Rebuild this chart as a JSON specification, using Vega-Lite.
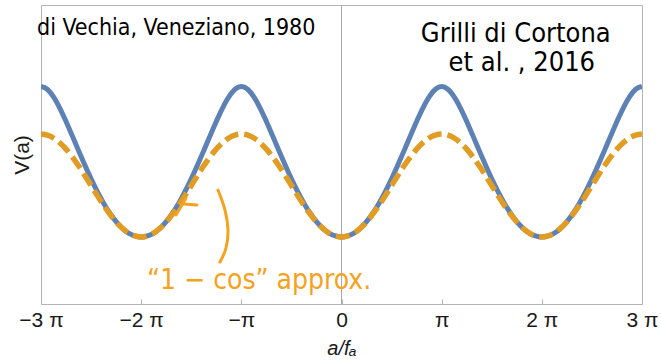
{
  "$schema": "https://vega.github.io/schema/vega-lite/v6.json",
  "width": 601,
  "height": 299,
  "autosize": {"type": "none"},
  "padding": {"left": 41, "top": 5, "right": 19, "bottom": 59},
  "background": "white",
  "config": {
    "view": {"stroke": "#b4b4b4", "strokeWidth": 1},
    "font": "Liberation Sans",
    "axisX": {
      "grid": false,
      "domain": false,
      "ticks": true,
      "tickSize": -5,
      "tickColor": "#b4b4b4",
      "labelFlush": false,
      "labelOverlap": false,
      "labelFont": "Liberation Sans",
      "labelFontSize": 21,
      "labelColor": "#1a1a1a",
      "labelPadding": 10,
      "titleFont": "Liberation Sans",
      "titleFontSize": 20,
      "titleFontWeight": "normal",
      "titleFontStyle": "italic",
      "titleColor": "#1a1a1a",
      "titlePadding": 8
    },
    "axisY": {
      "labels": false,
      "ticks": false,
      "domain": false,
      "grid": false,
      "titleFont": "Liberation Sans",
      "titleFontSize": 21,
      "titleFontWeight": "normal",
      "titleColor": "#1a1a1a",
      "titlePadding": 9
    }
  },
  "datasets": {
    "curves": [
      {"t": -3, "v": 1, "c": 0.684},
      {"t": -2.9375, "v": 0.982, "c": 0.677},
      {"t": -2.875, "v": 0.931, "c": 0.658},
      {"t": -2.8125, "v": 0.857, "c": 0.626},
      {"t": -2.75, "v": 0.768, "c": 0.584},
      {"t": -2.6875, "v": 0.672, "c": 0.532},
      {"t": -2.625, "v": 0.574, "c": 0.473},
      {"t": -2.5625, "v": 0.478, "c": 0.409},
      {"t": -2.5, "v": 0.386, "c": 0.342},
      {"t": -2.4375, "v": 0.301, "c": 0.275},
      {"t": -2.375, "v": 0.225, "c": 0.211},
      {"t": -2.3125, "v": 0.158, "c": 0.152},
      {"t": -2.25, "v": 0.102, "c": 0.1},
      {"t": -2.1875, "v": 0.058, "c": 0.058},
      {"t": -2.125, "v": 0.026, "c": 0.026},
      {"t": -2.0625, "v": 0.007, "c": 0.007},
      {"t": -2, "v": 0, "c": 0},
      {"t": -1.9375, "v": 0.007, "c": 0.007},
      {"t": -1.875, "v": 0.026, "c": 0.026},
      {"t": -1.8125, "v": 0.058, "c": 0.058},
      {"t": -1.75, "v": 0.102, "c": 0.1},
      {"t": -1.6875, "v": 0.158, "c": 0.152},
      {"t": -1.625, "v": 0.225, "c": 0.211},
      {"t": -1.5625, "v": 0.301, "c": 0.275},
      {"t": -1.5, "v": 0.386, "c": 0.342},
      {"t": -1.4375, "v": 0.478, "c": 0.409},
      {"t": -1.375, "v": 0.574, "c": 0.473},
      {"t": -1.3125, "v": 0.672, "c": 0.532},
      {"t": -1.25, "v": 0.768, "c": 0.584},
      {"t": -1.1875, "v": 0.857, "c": 0.626},
      {"t": -1.125, "v": 0.931, "c": 0.658},
      {"t": -1.0625, "v": 0.982, "c": 0.677},
      {"t": -1, "v": 1, "c": 0.684},
      {"t": -0.9375, "v": 0.982, "c": 0.677},
      {"t": -0.875, "v": 0.931, "c": 0.658},
      {"t": -0.8125, "v": 0.857, "c": 0.626},
      {"t": -0.75, "v": 0.768, "c": 0.584},
      {"t": -0.6875, "v": 0.672, "c": 0.532},
      {"t": -0.625, "v": 0.574, "c": 0.473},
      {"t": -0.5625, "v": 0.478, "c": 0.409},
      {"t": -0.5, "v": 0.386, "c": 0.342},
      {"t": -0.4375, "v": 0.301, "c": 0.275},
      {"t": -0.375, "v": 0.225, "c": 0.211},
      {"t": -0.3125, "v": 0.158, "c": 0.152},
      {"t": -0.25, "v": 0.102, "c": 0.1},
      {"t": -0.1875, "v": 0.058, "c": 0.058},
      {"t": -0.125, "v": 0.026, "c": 0.026},
      {"t": -0.0625, "v": 0.007, "c": 0.007},
      {"t": 0, "v": 0, "c": 0},
      {"t": 0.0625, "v": 0.007, "c": 0.007},
      {"t": 0.125, "v": 0.026, "c": 0.026},
      {"t": 0.1875, "v": 0.058, "c": 0.058},
      {"t": 0.25, "v": 0.102, "c": 0.1},
      {"t": 0.3125, "v": 0.158, "c": 0.152},
      {"t": 0.375, "v": 0.225, "c": 0.211},
      {"t": 0.4375, "v": 0.301, "c": 0.275},
      {"t": 0.5, "v": 0.386, "c": 0.342},
      {"t": 0.5625, "v": 0.478, "c": 0.409},
      {"t": 0.625, "v": 0.574, "c": 0.473},
      {"t": 0.6875, "v": 0.672, "c": 0.532},
      {"t": 0.75, "v": 0.768, "c": 0.584},
      {"t": 0.8125, "v": 0.857, "c": 0.626},
      {"t": 0.875, "v": 0.931, "c": 0.658},
      {"t": 0.9375, "v": 0.982, "c": 0.677},
      {"t": 1, "v": 1, "c": 0.684},
      {"t": 1.0625, "v": 0.982, "c": 0.677},
      {"t": 1.125, "v": 0.931, "c": 0.658},
      {"t": 1.1875, "v": 0.857, "c": 0.626},
      {"t": 1.25, "v": 0.768, "c": 0.584},
      {"t": 1.3125, "v": 0.672, "c": 0.532},
      {"t": 1.375, "v": 0.574, "c": 0.473},
      {"t": 1.4375, "v": 0.478, "c": 0.409},
      {"t": 1.5, "v": 0.386, "c": 0.342},
      {"t": 1.5625, "v": 0.301, "c": 0.275},
      {"t": 1.625, "v": 0.225, "c": 0.211},
      {"t": 1.6875, "v": 0.158, "c": 0.152},
      {"t": 1.75, "v": 0.102, "c": 0.1},
      {"t": 1.8125, "v": 0.058, "c": 0.058},
      {"t": 1.875, "v": 0.026, "c": 0.026},
      {"t": 1.9375, "v": 0.007, "c": 0.007},
      {"t": 2, "v": 0, "c": 0},
      {"t": 2.0625, "v": 0.007, "c": 0.007},
      {"t": 2.125, "v": 0.026, "c": 0.026},
      {"t": 2.1875, "v": 0.058, "c": 0.058},
      {"t": 2.25, "v": 0.102, "c": 0.1},
      {"t": 2.3125, "v": 0.158, "c": 0.152},
      {"t": 2.375, "v": 0.225, "c": 0.211},
      {"t": 2.4375, "v": 0.301, "c": 0.275},
      {"t": 2.5, "v": 0.386, "c": 0.342},
      {"t": 2.5625, "v": 0.478, "c": 0.409},
      {"t": 2.625, "v": 0.574, "c": 0.473},
      {"t": 2.6875, "v": 0.672, "c": 0.532},
      {"t": 2.75, "v": 0.768, "c": 0.584},
      {"t": 2.8125, "v": 0.857, "c": 0.626},
      {"t": 2.875, "v": 0.931, "c": 0.658},
      {"t": 2.9375, "v": 0.982, "c": 0.677},
      {"t": 3, "v": 1, "c": 0.684}
    ],
    "strokes": [
      {"seg": "brace", "k": 0, "t": -1.233, "v": 0.312},
      {"seg": "brace", "k": 1, "t": -1.163, "v": 0.179},
      {"seg": "brace", "k": 2, "t": -1.133, "v": 0.047},
      {"seg": "brace", "k": 3, "t": -1.153, "v": -0.073},
      {"seg": "brace", "k": 4, "t": -1.213, "v": -0.166},
      {"seg": "tip1", "k": 0, "t": -1.552, "v": 0.259},
      {"seg": "tip1", "k": 1, "t": -1.652, "v": 0.146},
      {"seg": "tip2", "k": 0, "t": -1.572, "v": 0.219},
      {"seg": "tip2", "k": 1, "t": -1.443, "v": 0.213}
    ],
    "refs": [
      {"label": "di Vechia, Veneziano, 1980", "t": -3.04, "v": 1.389, "size": "small"},
      {"label": "Grilli di Cortona", "t": 1.74, "v": 1.35, "size": "large"},
      {"label": "et al. , 2016", "t": 1.8, "v": 1.155, "size": "large"}
    ],
    "approxNote": [
      {"label": "“1 − cos”  approx.", "t": -1.942, "v": -0.29}
    ]
  },
  "encoding": {
    "x": {
      "field": "t",
      "type": "quantitative",
      "scale": {"domain": [-3, 3], "nice": false, "zero": false},
      "axis": {
        "values": [-3, -2, -1, 0, 1, 2, 3],
        "labelExpr": "datum.value == 0 ? '0' : datum.value == 1 ? 'π' : datum.value == -1 ? '−π' : (datum.value < 0 ? '−' : '') + abs(datum.value) + ' π'",
        "title": "a/fₐ"
      }
    }
  },
  "layer": [
    {
      "data": {"values": [{"t": 0}]},
      "mark": {"type": "rule", "color": "#a9a9a9", "strokeWidth": 1}
    },
    {
      "data": {"name": "curves"},
      "mark": {"type": "line", "color": "#5e81b5", "strokeWidth": 5, "interpolate": "monotone", "clip": true},
      "encoding": {
        "y": {
          "field": "v",
          "type": "quantitative",
          "title": "V(a)",
          "scale": {"domain": [-0.445, 1.5415], "nice": false, "zero": false}
        }
      }
    },
    {
      "data": {"name": "curves"},
      "mark": {"type": "line", "color": "#e19c24", "strokeWidth": 5.5, "strokeDash": [14, 6], "strokeCap": "butt", "interpolate": "monotone", "clip": true},
      "encoding": {
        "y": {"field": "c", "type": "quantitative", "title": "V(a)"}
      }
    },
    {
      "data": {"name": "strokes"},
      "mark": {"type": "line", "color": "#f5a21f", "strokeWidth": 3, "strokeCap": "round", "interpolate": "cardinal"},
      "encoding": {
        "y": {"field": "v", "type": "quantitative", "title": "V(a)"},
        "detail": {"field": "seg"},
        "order": {"field": "k"}
      }
    },
    {
      "data": {"name": "refs"},
      "transform": [{"filter": "datum.size == 'small'"}],
      "mark": {"type": "text", "align": "left", "baseline": "middle", "fontSize": 23, "font": "Liberation Sans Narrow, DejaVu Sans Condensed, Liberation Sans", "color": "#000000"},
      "encoding": {
        "y": {"field": "v", "type": "quantitative", "title": "V(a)"},
        "text": {"field": "label"}
      }
    },
    {
      "data": {"name": "refs"},
      "transform": [{"filter": "datum.size == 'large'"}],
      "mark": {"type": "text", "align": "center", "baseline": "middle", "fontSize": 27, "font": "Liberation Sans Narrow, DejaVu Sans Condensed, Liberation Sans", "color": "#000000"},
      "encoding": {
        "y": {"field": "v", "type": "quantitative", "title": "V(a)"},
        "text": {"field": "label"}
      }
    },
    {
      "data": {"name": "approxNote"},
      "mark": {"type": "text", "align": "left", "baseline": "middle", "fontSize": 28, "font": "Liberation Sans Narrow, DejaVu Sans Condensed, Liberation Sans", "color": "#f5a21f"},
      "encoding": {
        "y": {"field": "v", "type": "quantitative", "title": "V(a)"},
        "text": {"field": "label"}
      }
    }
  ]
}
